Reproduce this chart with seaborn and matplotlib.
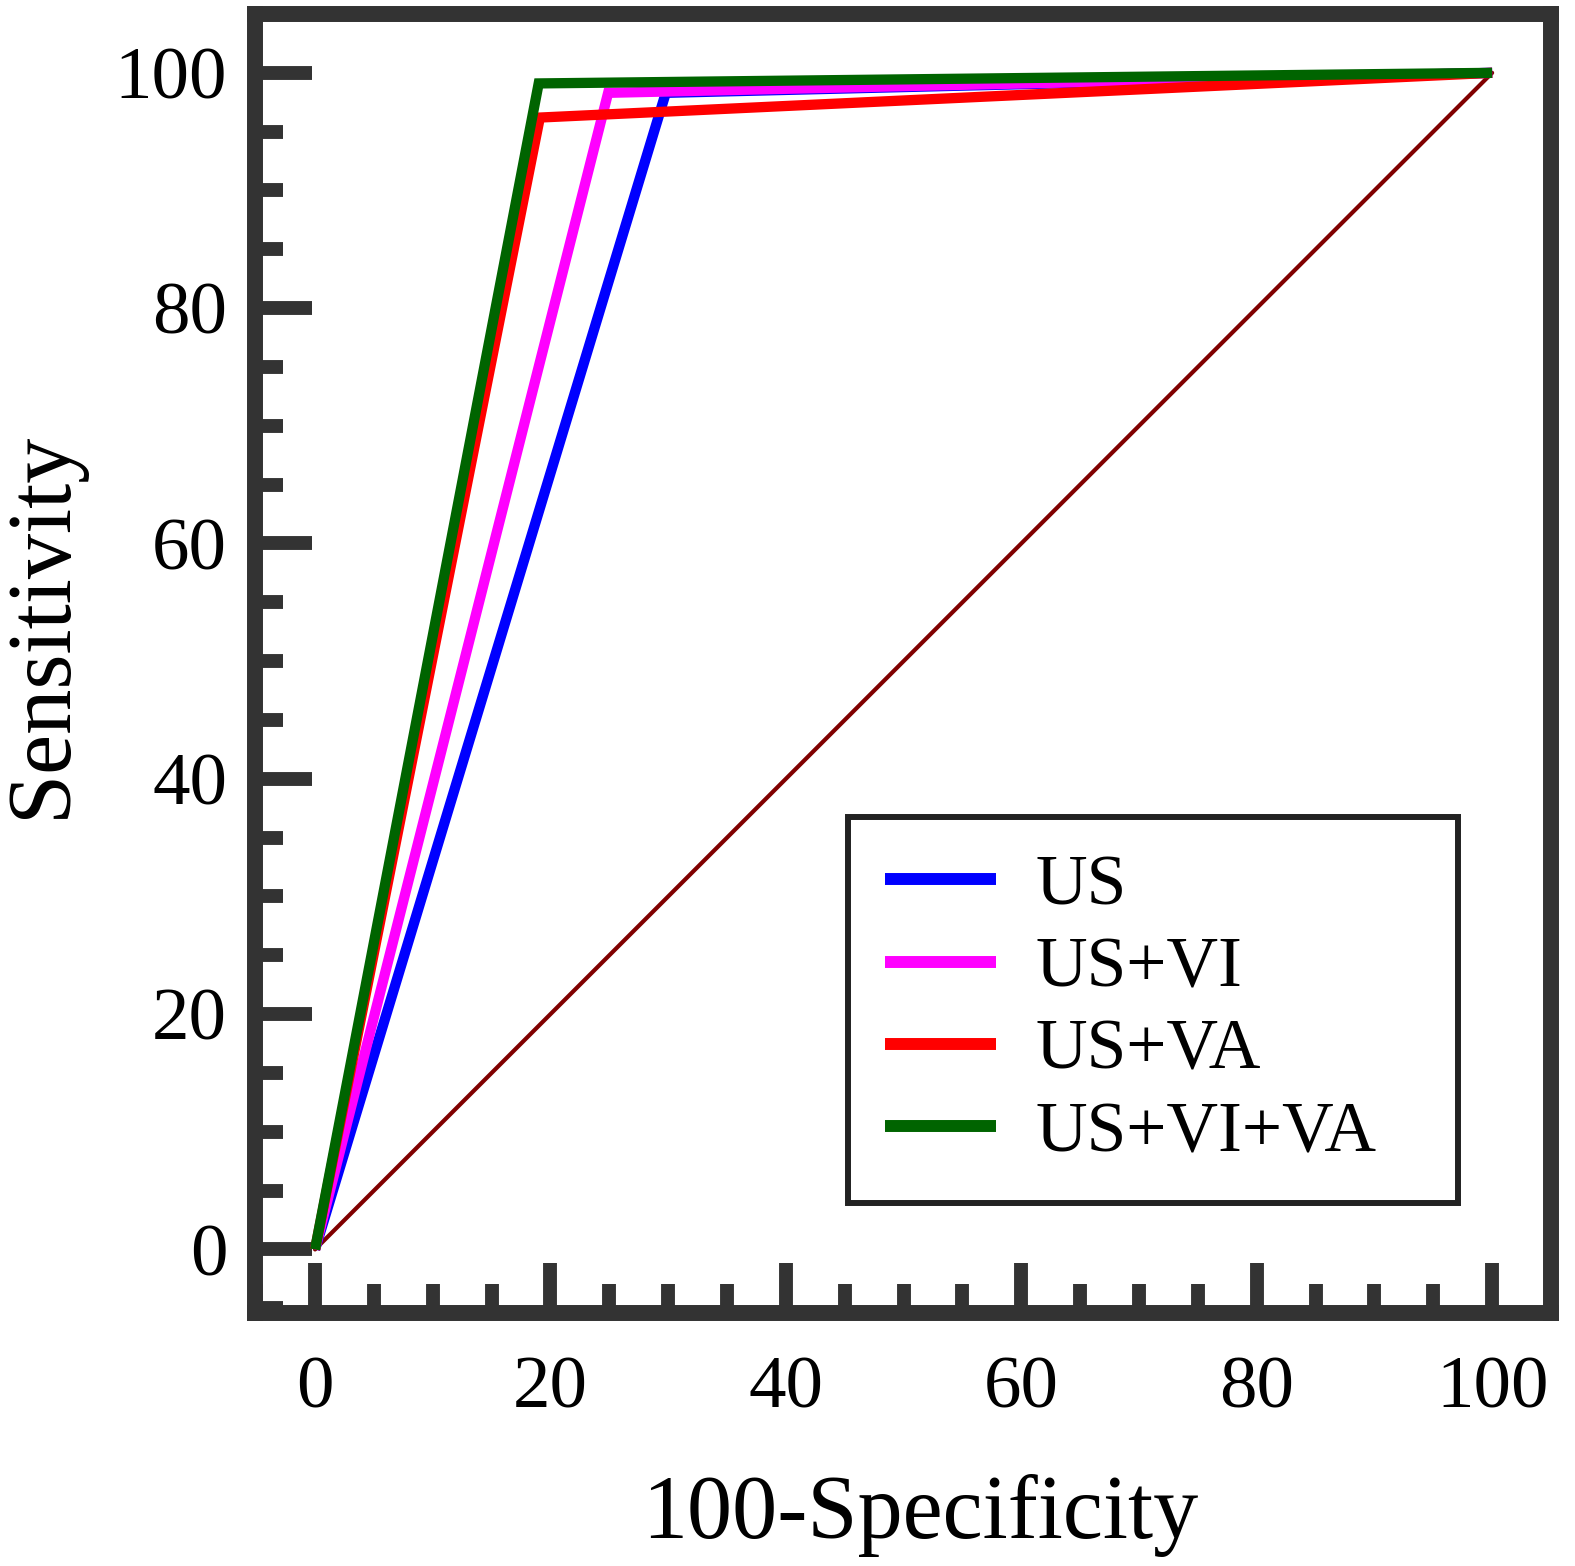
import numpy as np
import pandas as pd
import matplotlib
matplotlib.use("Agg")
import matplotlib.pyplot as plt
import seaborn as sns
from matplotlib.ticker import MultipleLocator

# ROC points (100-specificity, sensitivity)
methods = ["US", "US+VI", "US+VA", "US+VI+VA"]
fpr_us = [0, 29.8, 100]
sens_us = [0, 98.3, 100]
fpr_vi = [0, 24.9, 100]
sens_vi = [0, 98.3, 100]
fpr_va = [0, 19.1, 100]
sens_va = [0, 96.2, 100]
fpr_all = [0, 19.0, 100]
sens_all = [0, 99.1, 100]
chance = [0, 100]
colors = ["#0000ff", "#ff00ff", "#ff0000", "#006400"]

rows = []
for name, xs, ys in zip(methods, [fpr_us, fpr_vi, fpr_va, fpr_all],
                        [sens_us, sens_vi, sens_va, sens_all]):
    for x, y in zip(xs, ys):
        rows.append({"method": name, "fpr": x, "sens": y})
df = pd.DataFrame(rows)

sns.set_style("ticks")
plt.rcParams["font.family"] = ["Liberation Serif", "DejaVu Serif"]
plt.rcParams["text.color"] = "black"
plt.rcParams["axes.labelcolor"] = "black"
dark = "#333333"

fig = plt.figure(figsize=(15.75, 15.66), dpi=100)
ax = fig.add_axes([255 / 1575, 1 - 1313 / 1566, 1296 / 1575, 1299 / 1566])

sns.lineplot(x=chance, y=chance, color="#800000", linewidth=3, ax=ax, zorder=1)
sns.lineplot(data=df, x="fpr", y="sens", hue="method", hue_order=methods,
             palette=colors, linewidth=7.4, estimator=None, ax=ax, zorder=2,
             solid_capstyle="butt", solid_joinstyle="miter")

ax.set_xlim(-5.1, 105.0)
ax.set_ylim(-5.4, 105.0)
ax.xaxis.set_major_locator(MultipleLocator(20))
ax.xaxis.set_minor_locator(MultipleLocator(5))
ax.yaxis.set_major_locator(MultipleLocator(20))
ax.yaxis.set_minor_locator(MultipleLocator(5))

for s in ax.spines.values():
    s.set_linewidth(11.5)
    s.set_color(dark)

ax.tick_params(axis="both", which="both", direction="in", color=dark,
               width=10, labelsize=54, labelcolor="black", top=False, right=False)
ax.tick_params(axis="y", which="major", length=41, pad=20)
ax.tick_params(axis="y", which="minor", length=20)
ax.tick_params(axis="x", which="major", length=36, pad=31)
ax.tick_params(axis="x", which="minor", length=21)

ax.set_xlabel("100-Specificity", fontsize=65, color="black")
ax.set_ylabel("Sensitivity", fontsize=65, color="black")
ax.xaxis.set_label_coords(0.513, -0.124)
ax.yaxis.set_label_coords(-0.132, 0.53)

handles, labels = ax.get_legend_handles_labels()
leg = ax.legend(handles, labels, loc="upper left",
                bbox_to_anchor=(0.4576, 0.090, 0.4707, 0.2918),
                mode="expand", borderaxespad=0, fontsize=51.5,
                handlelength=1.55, handletextpad=0.55, labelspacing=0.24,
                borderpad=0.52, fancybox=False, framealpha=1)
leg.get_frame().set_edgecolor("#222222")
leg.get_frame().set_linewidth(4.3)
for ln in leg.get_lines():
    ln.set_linewidth(8.6)
    ln.set_solid_capstyle("butt")
for t in leg.get_texts():
    t.set_color("black")

fig.savefig("out.png", dpi=100)
